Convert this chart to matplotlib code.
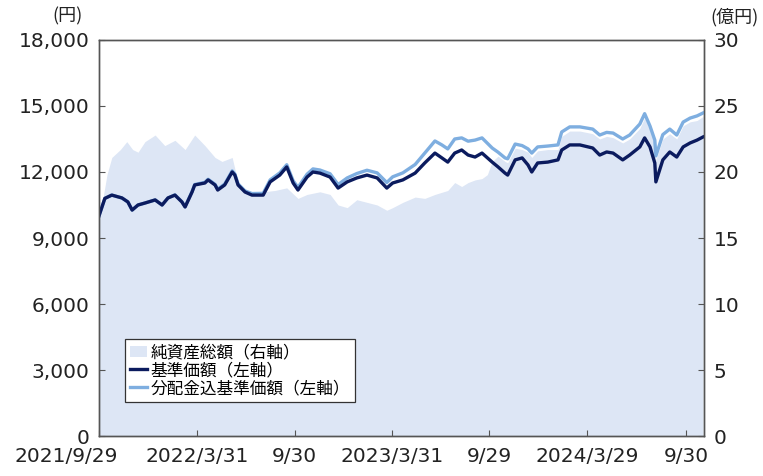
"""基準価額・純資産総額の推移 chart"""
import matplotlib
matplotlib.use("Agg")
import matplotlib.pyplot as plt
import matplotlib.dates as mdates
import matplotlib.transforms as mtransforms
from matplotlib.patches import Patch
from matplotlib.lines import Line2D
import pandas as pd

plt.rcParams['font.family'] = ['DejaVu Sans', 'Noto Sans CJK JP']

# 基準価額 / 分配金込基準価額 (円)
price_dates = [
    "2021-09-29", "2021-10-10", "2021-10-23", "2021-11-11", "2021-11-22", "2021-11-30",
    "2021-12-11", "2021-12-24", "2022-01-12", "2022-01-25", "2022-02-05", "2022-02-18",
    "2022-03-03", "2022-03-09", "2022-03-22", "2022-03-27", "2022-04-15", "2022-04-21",
    "2022-05-04", "2022-05-09", "2022-05-22", "2022-06-05", "2022-06-10", "2022-06-16",
    "2022-06-29", "2022-07-12", "2022-08-02", "2022-08-15", "2022-09-02", "2022-09-15",
    "2022-09-27", "2022-10-06", "2022-10-23", "2022-11-03", "2022-11-16", "2022-12-05",
    "2022-12-20", "2023-01-06", "2023-01-24", "2023-02-12", "2023-03-03", "2023-03-21",
    "2023-04-01", "2023-04-20", "2023-05-13", "2023-05-31", "2023-06-19", "2023-07-02",
    "2023-07-13", "2023-07-26", "2023-08-08", "2023-08-20", "2023-09-02", "2023-09-15",
    "2023-10-04", "2023-10-15", "2023-10-28", "2023-11-02", "2023-11-16", "2023-11-29",
    "2023-12-10", "2023-12-17", "2023-12-28", "2024-01-16", "2024-02-04", "2024-02-11",
    "2024-02-26", "2024-03-16", "2024-04-09", "2024-04-22", "2024-05-05", "2024-05-17",
    "2024-06-04", "2024-06-17", "2024-07-06", "2024-07-15", "2024-07-25", "2024-08-03",
    "2024-08-05", "2024-08-18", "2024-08-31", "2024-09-13", "2024-09-25", "2024-10-08",
    "2024-10-21", "2024-11-01",
]
nav = [
    10000, 10800, 10950, 10820, 10640, 10270,
    10500, 10590, 10730, 10500, 10820, 10950,
    10640, 10410, 11090, 11410, 11500, 11640,
    11410, 11180, 11410, 12000, 11860, 11410,
    11090, 10950, 10950, 11550, 11860, 12230,
    11500, 11180, 11770, 12000, 11950, 11770,
    11270, 11550, 11730, 11860, 11730, 11270,
    11500, 11640, 11950, 12410, 12860, 12640,
    12450, 12860, 13000, 12770, 12680, 12860,
    12450, 12230, 11950, 11860, 12550, 12640,
    12320, 12000, 12410, 12450, 12550, 13000,
    13230, 13230, 13090, 12770, 12910, 12860,
    12550, 12770, 13140, 13550, 13140, 12410,
    11550, 12550, 12910, 12680, 13140, 13320,
    13450, 13590,
]
nav_reinvested = [
    10000, 10800, 10950, 10820, 10640, 10270,
    10500, 10590, 10730, 10500, 10820, 10960,
    10650, 10420, 11110, 11430, 11530, 11670,
    11440, 11220, 11450, 12050, 11910, 11460,
    11140, 11020, 11030, 11640, 11960, 12330,
    11600, 11300, 11900, 12140, 12090, 11920,
    11430, 11730, 11930, 12080, 11960, 11520,
    11780, 11960, 12340, 12860, 13410, 13230,
    13050, 13500, 13550, 13400, 13450, 13550,
    13090, 12900, 12640, 12600, 13270, 13200,
    13050, 12860, 13140, 13180, 13230, 13820,
    14050, 14050, 13950, 13680, 13800, 13770,
    13500, 13680, 14180, 14650, 14090, 13450,
    12730, 13700, 13950, 13680, 14270, 14450,
    14550, 14680,
]

# 純資産総額 (億円)
asset_dates = [
    "2021-09-29", "2021-10-06", "2021-10-14", "2021-10-23", "2021-11-08", "2021-11-20",
    "2021-12-01", "2021-12-11", "2021-12-24", "2022-01-12", "2022-01-30", "2022-02-18",
    "2022-03-09", "2022-03-27", "2022-04-15", "2022-05-04", "2022-05-17", "2022-06-05",
    "2022-06-16", "2022-06-29", "2022-07-12", "2022-08-02", "2022-08-24", "2022-09-15",
    "2022-10-06", "2022-10-23", "2022-11-16", "2022-12-05", "2022-12-20", "2023-01-06",
    "2023-01-24", "2023-02-12", "2023-03-03", "2023-03-21", "2023-04-01", "2023-04-20",
    "2023-05-13", "2023-05-31", "2023-06-19", "2023-07-13", "2023-07-26", "2023-08-08",
    "2023-08-20", "2023-09-02", "2023-09-15", "2023-09-25", "2023-10-04", "2023-10-15",
    "2023-10-28", "2023-11-02", "2023-11-16", "2023-11-29", "2023-12-10", "2023-12-17",
    "2023-12-28", "2024-01-16", "2024-02-04", "2024-02-11", "2024-02-26", "2024-03-16",
    "2024-04-09", "2024-04-22", "2024-05-05", "2024-05-17", "2024-06-04", "2024-06-17",
    "2024-07-06", "2024-07-15", "2024-07-25", "2024-08-03", "2024-08-05", "2024-08-18",
    "2024-08-31", "2024-09-13", "2024-09-25", "2024-10-08", "2024-10-21", "2024-11-01",
]
net_assets = [
    16.7, 17.9, 19.8, 21.1, 21.7, 22.3,
    21.7, 21.5, 22.3, 22.8, 22.0, 22.4,
    21.7, 22.8, 22.0, 21.1, 20.8, 21.1,
    19.2, 18.5, 18.3, 18.5, 18.6, 18.8,
    18.0, 18.3, 18.5, 18.3, 17.5, 17.3,
    17.9, 17.7, 17.5, 17.1, 17.3, 17.7,
    18.1, 18.0, 18.3, 18.6, 19.2, 18.9,
    19.2, 19.4, 19.5, 19.8, 20.8, 21.2,
    20.8, 20.7, 21.8, 21.7, 21.5, 21.1,
    21.6, 21.7, 21.7, 22.7, 23.1, 23.1,
    22.9, 22.5, 22.7, 22.6, 22.2, 22.5,
    23.3, 24.1, 23.2, 22.1, 20.9, 22.5,
    22.9, 22.5, 23.5, 23.8, 23.9, 24.2,
]

tick_dates = ["2021-09-29", "2022-03-31", "2022-09-30", "2023-03-31",
              "2023-09-29", "2024-03-29", "2024-09-30"]
tick_labels = ["2021/9/29", "2022/3/31", "9/30", "2023/3/31", "9/29", "2024/3/29", "9/30"]

left_ticks = [0, 3000, 6000, 9000, 12000, 15000, 18000]
right_ticks = [0, 5, 10, 15, 20, 25, 30]

C_FILL = "#dde6f5"
C_NAV = "#0b1b5e"
C_REINV = "#7eaee0"
C_SPINE = "#555555"

p_dates = pd.to_datetime(price_dates)
a_dates = pd.to_datetime(asset_dates)

fig = plt.figure(figsize=(7.63, 4.76), dpi=100)
ax = fig.add_axes([0.1297, 0.084, 0.7930, 0.832])
ax2 = ax.twinx()

ax2.fill_between(a_dates, net_assets, 0, color=C_FILL, lw=0)
ax.plot(p_dates, nav_reinvested, color=C_REINV, lw=2.4, solid_joinstyle="round")
ax.plot(p_dates, nav, color=C_NAV, lw=2.4, solid_joinstyle="round")

ax.set_zorder(ax2.get_zorder() + 1)
ax.patch.set_visible(False)

ax.set_xlim(pd.Timestamp("2021-09-29"), pd.Timestamp("2024-11-03"))
ax.set_ylim(0, 18000)
ax2.set_ylim(0, 30)

ax.set_xticks(pd.to_datetime(tick_dates))
ax.set_xticklabels(tick_labels)
ax.set_yticks(left_ticks)
ax.set_yticklabels([f"{v:,}" for v in left_ticks])
ax2.set_yticks(right_ticks)
ax2.set_yticklabels([str(v) for v in right_ticks])

for a in (ax, ax2):
    for s in a.spines.values():
        s.set_color(C_SPINE)
        s.set_linewidth(1.0)
    a.tick_params(direction="in", length=4, width=0.8, color=C_SPINE,
                  labelsize=14.5, labelcolor="#222222")
ax.tick_params(axis="y", pad=7)
ax.tick_params(axis="x", pad=8)
ax2.tick_params(axis="y", pad=7)

# first date label sits shifted left in the original
first = ax.get_xticklabels()[0]
first.set_transform(first.get_transform() +
                    mtransforms.ScaledTranslation(-33 / 100, 0, fig.dpi_scale_trans))

fig.text(0.089, 0.965, "(円)", ha="center", va="center", fontsize=13,
         family=["Noto Sans CJK JP"], color="#222222")
fig.text(0.962, 0.965, "(億円)", ha="center", va="center", fontsize=13,
         family=["Noto Sans CJK JP"], color="#222222")

handles = [
    Patch(facecolor=C_FILL, edgecolor="none"),
    Line2D([], [], color=C_NAV, lw=2.4),
    Line2D([], [], color=C_REINV, lw=2.4),
]
labels = ["純資産総額（右軸）", "基準価額（左軸）", "分配金込基準価額（左軸）"]
leg = ax.legend(handles, labels, loc="lower left", bbox_to_anchor=(0.03, 0.065),
                prop={"family": ["Noto Sans CJK JP"], "size": 12},
                handlelength=1.0, handletextpad=0.2, labelspacing=0.05,
                borderpad=0.3, fancybox=False, framealpha=1, edgecolor="#333333")
leg.get_frame().set_linewidth(0.9)

fig.savefig("out.png", dpi=100)
